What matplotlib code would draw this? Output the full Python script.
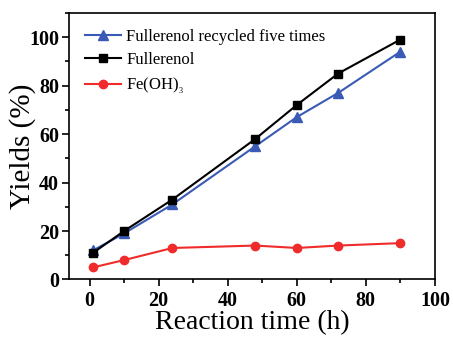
import matplotlib
matplotlib.use("Agg")
import matplotlib.pyplot as plt
from matplotlib.ticker import MultipleLocator

# data
time_h = [1, 10, 24, 48, 60, 72, 90]
recycled = [12, 19, 31, 55, 67, 77, 94]
fullerenol = [11, 20, 33, 58, 72, 85, 99]
fe_oh3 = [5, 8, 13, 14, 13, 14, 15]

plt.rcParams['font.family'] = ['Liberation Serif', 'DejaVu Serif']
plt.rcParams['mathtext.fontset'] = 'stix'

fig = plt.figure(figsize=(4.53, 3.40), dpi=100)
ax = fig.add_axes([0.152, 0.178, 0.808, 0.784])

ax.plot(time_h, recycled, color='#3a5bb5', marker='^', markersize=6.5, lw=1.5,
        label='Fullerenol recycled five times')
ax.plot(time_h, fullerenol, color='black', marker='s', markersize=5.5, lw=1.5,
        label='Fullerenol')
ax.plot(time_h, fe_oh3, color='#f02b2b', marker='o', markersize=6, lw=1.5,
        label='Fe(OH)$_\\mathregular{_3}$')

ax.set_xlim(-6, 100)
ax.set_ylim(0, 110)
ax.xaxis.set_major_locator(MultipleLocator(20))
ax.xaxis.set_minor_locator(MultipleLocator(10))
ax.yaxis.set_major_locator(MultipleLocator(20))
ax.yaxis.set_minor_locator(MultipleLocator(10))
ax.tick_params(which='both', direction='out', top=False, right=False, width=1.2)
ax.tick_params(which='major', length=5, labelsize=14.5, pad=2)
ax.tick_params(axis='x', which='major', pad=3)
ax.tick_params(which='minor', length=3)
for lbl in ax.get_xticklabels() + ax.get_yticklabels():
    lbl.set_fontweight('bold')
for s in ax.spines.values():
    s.set_linewidth(1.2)

ax.set_xlabel('Reaction time (h)', fontsize=20, labelpad=0)
ax.set_ylabel('Yields (%)', fontsize=21, labelpad=-5)

ax.legend(loc='upper left', frameon=False, fontsize=12, handlelength=2.2,
          handletextpad=0.3, labelspacing=0.45, borderaxespad=0.55)

fig.savefig('out.png', dpi=100)
